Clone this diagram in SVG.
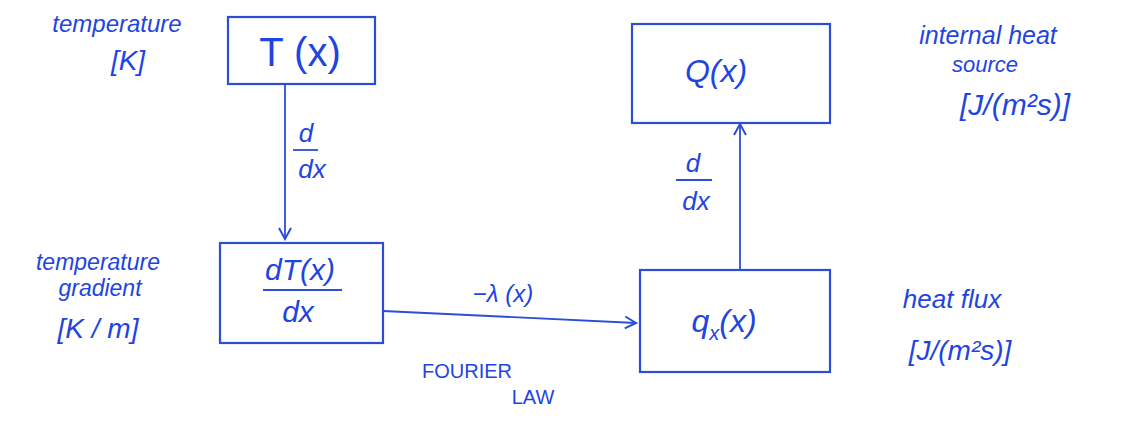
<svg xmlns="http://www.w3.org/2000/svg" width="1128" height="424" viewBox="0 0 1128 424">
<defs>
<style>
.box{fill:none;stroke:#2a4fd6;stroke-width:2.2}
.ln{fill:none;stroke:#2a4fd6;stroke-width:1.8}
.t{fill:#1f45e0;font-family:"Liberation Sans",Arial,sans-serif;font-style:italic}
.m{font-size:34px;text-anchor:middle}
.lab{font-size:22px;text-anchor:middle}
.d{font-size:26px;text-anchor:middle}
</style>
<marker id="ah" viewBox="0 0 14 14" refX="12" refY="7" markerWidth="14" markerHeight="14" markerUnits="userSpaceOnUse" orient="auto">
<polyline points="1,1 12,7 1,13" fill="none" stroke="#2a4fd6" stroke-width="2"/>
</marker>
</defs>
<rect width="1128" height="424" fill="#ffffff"/>
<g id="connectors">
<line class="ln" x1="285" y1="84" x2="285" y2="239" marker-end="url(#ah)"/>
<line class="ln" x1="383" y1="311" x2="636" y2="323" marker-end="url(#ah)"/>
<line class="ln" x1="740" y1="270" x2="740" y2="124" marker-end="url(#ah)"/>
<g id="label-d1">
<text class="t d" x="306" y="142">d</text>
<line class="ln" x1="293" y1="150" x2="318" y2="150"/>
<text class="t d" x="312" y="178">dx</text>
</g>
<g id="label-d2">
<text class="t d" x="693" y="172">d</text>
<line class="ln" x1="676" y1="180" x2="712" y2="180"/>
<text class="t d" x="696" y="210">dx</text>
</g>
<text class="t lab" x="503" y="302" style="font-size:24px">−λ (x)</text>
<text class="t lab" x="467" y="378" style="font-size:20px;font-style:normal">FOURIER</text>
<text class="t lab" x="533" y="404" style="font-size:20px;font-style:normal">LAW</text>
</g>
<g id="node-T">
<rect class="box" x="228" y="17" width="147" height="67"/>
<text class="t m" x="300" y="66" style="font-size:40px;font-style:normal">T (x)</text>
</g>
<g id="label-T">
<text class="t lab" x="117" y="32" style="font-size:24px">temperature</text>
<text class="t lab" x="128" y="70" style="font-size:28px">[K]</text>
</g>
<g id="node-dT">
<rect class="box" x="220" y="243" width="163" height="100"/>
<text class="t m" x="300" y="280" style="font-size:30px">dT(x)</text>
<line class="ln" x1="263" y1="290" x2="342" y2="290"/>
<text class="t m" x="298" y="322" style="font-size:30px">dx</text>
</g>
<g id="label-dT">
<text class="t lab" x="98" y="270" style="font-size:23px">temperature</text>
<text class="t lab" x="100" y="296" style="font-size:23px">gradient</text>
<text class="t lab" x="98" y="338" style="font-size:28px">[K / m]</text>
</g>
<g id="node-q">
<rect class="box" x="640" y="270" width="190" height="102"/>
<text class="t m" x="724" y="332" style="font-size:32px">q<tspan font-size="20px" dy="8">x</tspan><tspan dy="-8">(x)</tspan></text>
</g>
<g id="label-q">
<text class="t lab" x="952" y="308" style="font-size:26px">heat flux</text>
<text class="t lab" x="960" y="360" style="font-size:28px">[J/(m²s)]</text>
</g>
<g id="node-Q">
<rect class="box" x="632" y="24" width="198" height="99"/>
<text class="t m" x="716" y="82" style="font-size:32px">Q(x)</text>
</g>
<g id="label-Q">
<text class="t lab" x="988" y="44" style="font-size:25px">internal heat</text>
<text class="t lab" x="985" y="72" style="font-size:22px">source</text>
<text class="t lab" x="1015" y="115" style="font-size:30px">[J/(m²s)]</text>
</g>
</svg>
